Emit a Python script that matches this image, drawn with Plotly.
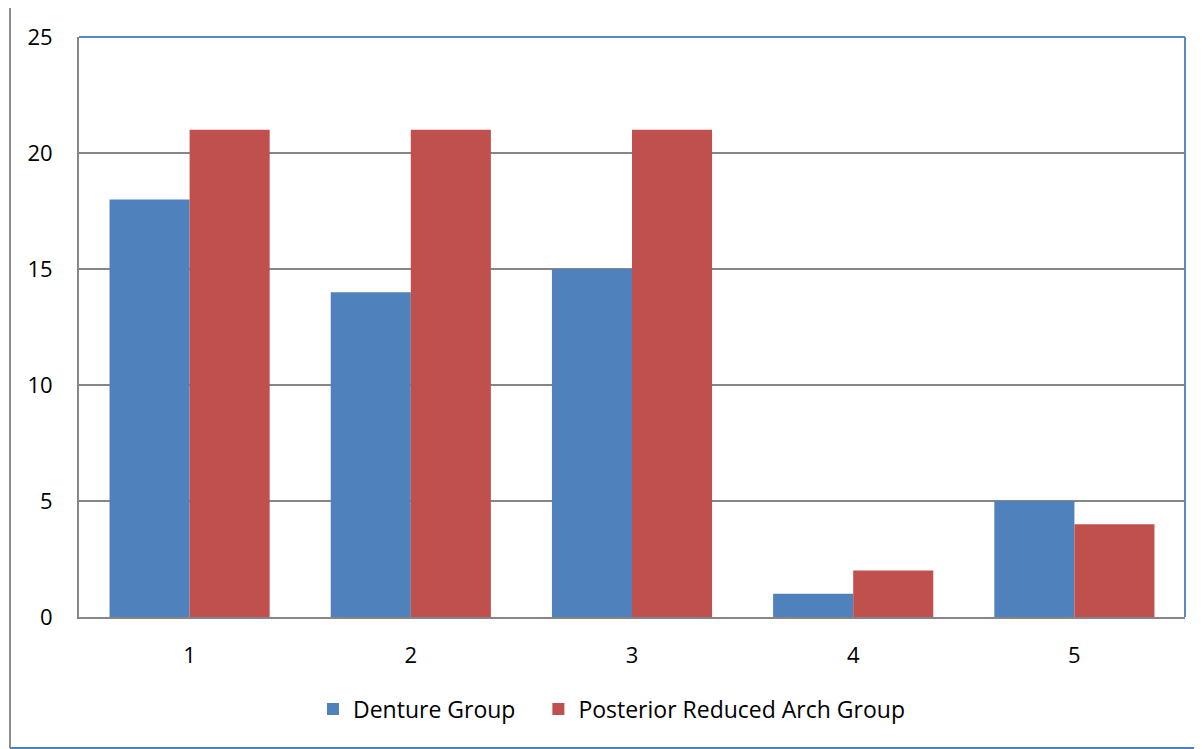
import plotly.graph_objects as go

categories = ["1", "2", "3", "4", "5"]
denture = [18, 14, 15, 1, 5]
posterior = [21, 21, 21, 2, 4]
y_ticks = [0, 5, 10, 15, 20, 25]
series_names = ["Denture Group", "Posterior Reduced Arch Group"]

OFF = 8  # page body margin
W, H = 1202 - OFF, 749 - OFF
L, R, T, B = 79 - OFF, 17, 37 - OFF, 132
pw, ph = W - L - R, H - T - B

fig = go.Figure()
fig.add_trace(go.Bar(x=categories, y=denture, name=series_names[0] + "\u00a0" * 3,
                     marker=dict(color="#4F81BD", line=dict(width=0))))
fig.add_trace(go.Bar(x=categories, y=posterior, name=series_names[1],
                     marker=dict(color="#C0504D", line=dict(width=0))))

def px(x):
    return (x - OFF - L) / pw

def py(y):
    return 1 - (y - OFF - T) / ph

shapes = [
    # outer frame
    dict(type="line", xref="paper", yref="paper", x0=px(10), x1=px(1210), y0=py(7), y1=py(7),
         line=dict(color="#8C8C8C", width=2)),
    dict(type="line", xref="paper", yref="paper", x0=px(10), x1=px(10), y0=py(7), y1=py(748),
         line=dict(color="#8C8C8C", width=2)),
    dict(type="line", xref="paper", yref="paper", x0=px(10), x1=px(1210), y0=py(748), y1=py(748),
         line=dict(color="#4F81BD", width=2)),
    # plot-area border top/right
    dict(type="line", xref="paper", yref="paper", x0=0, x1=1, y0=1, y1=1,
         line=dict(color="#5B87C5", width=2)),
    dict(type="line", xref="paper", yref="paper", x0=1, x1=1, y0=0, y1=1,
         line=dict(color="#5B87C5", width=2)),
]

fig.update_layout(
    width=W, height=H,
    margin=dict(l=L, r=R, t=T, b=B, pad=0),
    paper_bgcolor="white", plot_bgcolor="white",
    barmode="group", bargap=0.276, bargroupgap=0,
    font=dict(family="Open Sans, Liberation Sans, sans-serif", size=22, color="black"),
    showlegend=True,
    legend=dict(orientation="h", x=px(313), xanchor="left", y=py(709), yanchor="middle",
                xref="paper", yref="paper", font=dict(size=23), itemwidth=30,
                traceorder="normal"),
    shapes=shapes,
    xaxis=dict(showgrid=False, showline=True, linecolor="#868686", linewidth=2,
               ticks="", tickfont=dict(size=22), ticklabelstandoff=18, zeroline=False),
    yaxis=dict(range=[0, 25], tickvals=y_ticks, showgrid=True, gridcolor="#868686",
               gridwidth=1.5, showline=True, linecolor="#868686", linewidth=2,
               ticks="", tickfont=dict(size=22), ticklabelstandoff=20, zeroline=False),
)

fig.write_html("out.html")
